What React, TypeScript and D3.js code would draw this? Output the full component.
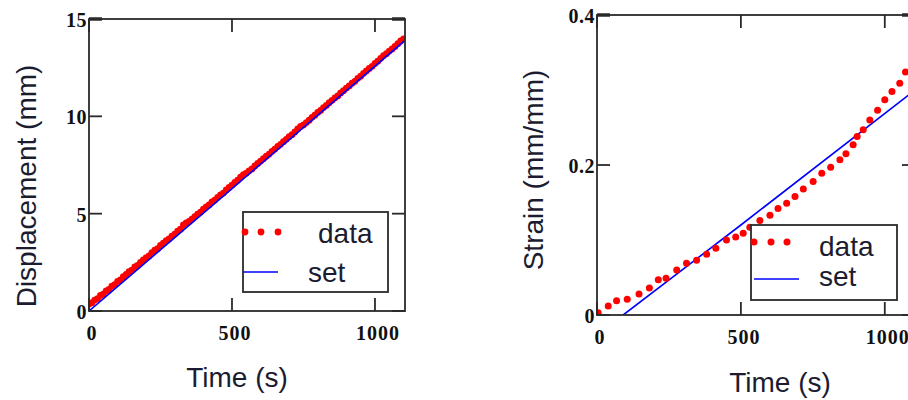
import React from "react";
import * as d3 from "d3";

// ---------- Data ----------
const dispTime: number[] = [
  0, 10, 20, 30, 40, 50, 60, 70, 80, 90, 100, 110, 120, 130, 140, 150, 160, 170, 180, 190,
  200, 210, 220, 230, 240, 250, 260, 270, 280, 290, 300, 310, 320, 330, 340, 350, 360, 370, 380, 390,
  400, 410, 420, 430, 440, 450, 460, 470, 480, 490, 500, 510, 520, 530, 540, 550, 560, 570, 580, 590,
  600, 610, 620, 630, 640, 650, 660, 670, 680, 690, 700, 710, 720, 730, 740, 750, 760, 770, 780, 790,
  800, 810, 820, 830, 840, 850, 860, 870, 880, 890, 900, 910, 920, 930, 940, 950, 960, 970, 980, 990,
  1000, 1010, 1020, 1030, 1040, 1050, 1060, 1070, 1080, 1090, 1100,
];
const dispData: number[] = [
  0.36, 0.42, 0.56, 0.64, 0.80, 0.87, 1.03, 1.11, 1.28, 1.35, 1.52, 1.60, 1.76, 1.88, 2.02, 2.10, 2.26, 2.34, 2.50, 2.62,
  2.74, 2.83, 3.00, 3.12, 3.20, 3.37, 3.48, 3.62, 3.70, 3.84, 3.95, 4.10, 4.20, 4.42, 4.52, 4.60, 4.72, 4.85, 4.98, 5.08,
  5.23, 5.35, 5.45, 5.60, 5.70, 5.84, 5.97, 6.06, 6.22, 6.35, 6.47, 6.60, 6.72, 6.88, 7.00, 7.08, 7.20, 7.30, 7.45, 7.58,
  7.70, 7.82, 7.95, 8.06, 8.20, 8.32, 8.45, 8.56, 8.70, 8.82, 8.95, 9.06, 9.20, 9.35, 9.48, 9.56, 9.68, 9.80, 9.95, 10.06,
  10.20, 10.30, 10.45, 10.56, 10.70, 10.82, 10.95, 11.05, 11.20, 11.32, 11.45, 11.56, 11.70, 11.80, 11.95, 12.06, 12.21, 12.33, 12.46, 12.57,
  12.72, 12.83, 12.98, 13.12, 13.22, 13.35, 13.46, 13.59, 13.73, 13.87, 13.98,
];
const dispSetTime: number[] = [0, 500, 1105];
const dispSet: number[] = [0, 6.29, 13.9];

const strainTime: number[] = [
  4, 39, 68, 105, 146, 182, 213, 240, 277, 311, 346, 381, 413, 450, 482, 508, 531, 566, 601, 629,
  659, 688, 717, 751, 781, 812, 844, 865, 890, 904, 925, 948, 975, 1000, 1025, 1052, 1072, 1095,
];
const strainData: number[] = [
  0.003, 0.012, 0.019, 0.021, 0.028, 0.036, 0.047, 0.049, 0.06, 0.069, 0.073, 0.081, 0.089, 0.1, 0.104, 0.109, 0.117, 0.126, 0.133, 0.142,
  0.149, 0.158, 0.168, 0.178, 0.189, 0.197, 0.207, 0.215, 0.227, 0.238, 0.247, 0.26, 0.273, 0.287, 0.298, 0.309, 0.324, 0.336,
];
const strainSetTime: number[] = [91, 500, 1105];
const strainSet: number[] = [0, 0.12, 0.3];

const xTicks: number[] = [0, 500, 1000];
const dispTicks: number[] = [0, 5, 10, 15];
const strainTicks: number[] = [0, 0.2, 0.4];
const strainTickLabels: string[] = ["0", "0.2", "0.4"];
const legendLabels: string[] = ["data", "set"];

const RED = "#ff0000";
const BLUE = "#0000ff";
const FRAME = "#2a2a2a";
const TEXT = "#1c1c30";
const TICKFONT = "'Liberation Serif', 'DejaVu Serif', serif";
const SANS = "'Liberation Sans', Arial, sans-serif";

type PanelProps = {
  id: string;
  x: d3.ScaleLinear<number, number>;
  y: d3.ScaleLinear<number, number>;
  yTicks: number[];
  yTickLabels: string[];
  dataT: number[];
  dataV: number[];
  setT: number[];
  setV: number[];
  dotR: number;
  yTitle: string;
  yTitleX: number;
  yTitleY: number;
  xTitleX: number;
  xTitleY: number;
  legend: { x0: number; x1: number; y0: number; y1: number; dotY: number; lineY: number; dataX: number; dataY: number; setX: number; setY: number; dotXs: number[]; lineX0: number; lineX1: number };
  setOnTop: boolean;
};

function Panel(p: PanelProps) {
  const [x0, x1] = p.x.range();
  const [yb, yt] = p.y.range();
  const tl = 13;
  const line = d3
    .line<number>()
    .x((_, i) => p.x(p.setT[i]))
    .y((d) => p.y(d));
  const setPath = line(p.setV) || "";
  const dots = p.dataV.map((v, i) => (
    <circle key={i} cx={p.x(p.dataT[i])} cy={p.y(v)} r={p.dotR} fill={RED} />
  ));
  const setEl = <path d={setPath} fill="none" stroke={BLUE} strokeWidth={1.6} />;
  const L = p.legend;
  return (
    <g>
      <defs>
        <clipPath id={p.id}>
          <rect x={x0} y={yt} width={x1 - x0} height={yb - yt} />
        </clipPath>
      </defs>
      <g clipPath={`url(#${p.id})`}>
        {p.setOnTop ? null : setEl}
        {dots}
        {p.setOnTop ? setEl : null}
      </g>
      <rect x={x0} y={yt} width={x1 - x0} height={yb - yt} fill="none" stroke={FRAME} strokeWidth={1.8} />
      {xTicks.map((t) => (
        <g key={"xt" + t}>
          <line x1={p.x(t)} x2={p.x(t)} y1={yb} y2={yb - tl} stroke={FRAME} strokeWidth={1.8} />
          <line x1={p.x(t)} x2={p.x(t)} y1={yt} y2={yt + tl} stroke={FRAME} strokeWidth={1.8} />
          <text
            x={p.x(t) + 3}
            y={yb + 29}
            textAnchor="middle"
            fontFamily={TICKFONT}
            fontWeight="bold"
            fontSize={20}
            letterSpacing={1}
            fill="#111"
          >
            {String(t)}
          </text>
        </g>
      ))}
      {p.yTicks.map((t, i) => (
        <g key={"yt" + i}>
          <line x1={x0} x2={x0 + tl} y1={p.y(t)} y2={p.y(t)} stroke={FRAME} strokeWidth={i === p.yTicks.length - 1 ? 3.5 : 1.8} />
          <line x1={x1} x2={x1 - tl} y1={p.y(t)} y2={p.y(t)} stroke={FRAME} strokeWidth={i === p.yTicks.length - 1 ? 3.5 : 1.8} />
          <text
            x={x0 - 2}
            y={p.y(t) + 8}
            textAnchor="end"
            fontFamily={TICKFONT}
            fontWeight="bold"
            fontSize={20}
            letterSpacing={0.5}
            fill="#111"
          >
            {p.yTickLabels[i]}
          </text>
        </g>
      ))}
      <text x={p.xTitleX} y={p.xTitleY} textAnchor="middle" fontFamily={SANS} fontSize={28} fill={TEXT}>
        Time (s)
      </text>
      <text
        transform={`translate(${p.yTitleX},${p.yTitleY}) rotate(-90)`}
        textAnchor="middle"
        fontFamily={SANS}
        fontSize={28}
        fill={TEXT}
      >
        {p.yTitle}
      </text>
      <rect x={L.x0} y={L.y0} width={L.x1 - L.x0} height={L.y1 - L.y0} fill="white" stroke={FRAME} strokeWidth={1.8} />
      {L.dotXs.map((dx, i) => (
        <circle key={"ld" + i} cx={dx} cy={L.dotY} r={p.dotR} fill={RED} />
      ))}
      <line x1={L.lineX0} x2={L.lineX1} y1={L.lineY} y2={L.lineY} stroke={BLUE} strokeWidth={1.6} />
      <text x={L.dataX} y={L.dataY} fontFamily={SANS} fontSize={28} fill={TEXT}>
        {legendLabels[0]}
      </text>
      <text x={L.setX} y={L.setY} fontFamily={SANS} fontSize={28} fill={TEXT}>
        {legendLabels[1]}
      </text>
    </g>
  );
}

export default function App() {
  const xL = d3.scaleLinear().domain([0, 1105]).range([89, 405]);
  const yL = d3.scaleLinear().domain([0, 15]).range([311, 19]);
  const xR = d3.scaleLinear().domain([0, 1105]).range([597, 915]);
  const yR = d3.scaleLinear().domain([0, 0.4]).range([315, 15]);
  return (
    <div style={{ position: "absolute", left: 0, top: 0, width: 908, height: 400, overflow: "hidden", background: "white" }}>
      <svg width={908} height={400} style={{ display: "block" }}>
        <rect x={0} y={0} width={908} height={400} fill="white" />
        <Panel
          id="clipL"
          x={xL}
          y={yL}
          yTicks={dispTicks}
          yTickLabels={dispTicks.map(String)}
          dataT={dispTime}
          dataV={dispData}
          setT={dispSetTime}
          setV={dispSet}
          dotR={3.4}
          yTitle="Displacement (mm)"
          yTitleX={36}
          yTitleY={186}
          xTitleX={237}
          xTitleY={387}
          setOnTop={true}
          legend={{
            x0: 243, x1: 388, y0: 212, y1: 292,
            dotXs: [245, 261, 278], dotY: 232,
            lineX0: 243, lineX1: 278, lineY: 272,
            dataX: 318, dataY: 243, setX: 308, setY: 282,
          }}
        />
        <Panel
          id="clipR"
          x={xR}
          y={yR}
          yTicks={strainTicks}
          yTickLabels={strainTickLabels}
          dataT={strainTime}
          dataV={strainData}
          setT={strainSetTime}
          setV={strainSet}
          dotR={3.5}
          yTitle="Strain (mm/mm)"
          yTitleX={543}
          yTitleY={170}
          xTitleX={780}
          xTitleY={392}
          setOnTop={false}
          legend={{
            x0: 751, x1: 897, y0: 225, y1: 300,
            dotXs: [754, 771, 787], dotY: 242,
            lineX0: 754, lineX1: 799, lineY: 279,
            dataX: 819, dataY: 256, setX: 819, setY: 286,
          }}
        />
      </svg>
    </div>
  );
}
